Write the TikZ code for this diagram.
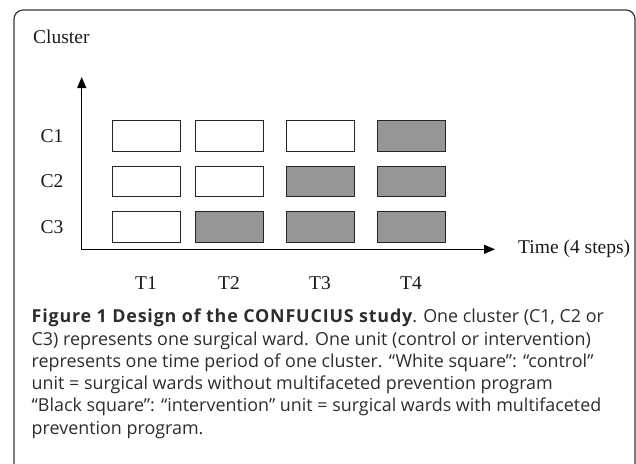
\documentclass[tikz,border=0pt]{standalone}
\usepackage{fontspec}
\setmainfont{Liberation Serif}
\setsansfont{Open Sans}[BoldFeatures={LetterSpace=4.5}]
\usetikzlibrary{arrows.meta}
\definecolor{unitgray}{RGB}{150,150,150}
\definecolor{framegray}{RGB}{55,55,55}
\definecolor{captext}{RGB}{45,45,45}

\begin{document}
\begin{tikzpicture}[x=1pt,y=1pt]
                    \tikzstyle{every node}+=[inner sep=0pt]
                    \tikzstyle{unit}=[draw=black!85, line width=0.9pt, minimum width=68pt, minimum height=30.5pt]
                    \tikzstyle{ctrl}=[unit, fill=white]
                    \tikzstyle{intv}=[unit, fill=unitgray]
                    \tikzstyle{lbl}=[text=black!90, font=\fontsize{19.5}{22}\selectfont]
                    \useasboundingbox (0,0) rectangle (636,-463);
                    \draw [framegray, line width=1.2pt, rounded corners=9pt] (14,-480) -- (14,-10) -- (635,-10) -- (635,-480);
                    \node (cluster) [lbl, anchor=west] at (33,-37) {Cluster};
                    % cluster rows
                    \node (c1) [lbl] at (52,-136) {C1};
                    \node (c2) [lbl] at (52,-181.5) {C2};
                    \node (c3) [lbl] at (52,-227) {C3};
                    \node (c1t1) [ctrl] at (146,-136) {};
                    \node (c1t2) [ctrl] at (229,-136) {};
                    \node (c1t3) [ctrl] at (320,-136) {};
                    \node (c1t4) [intv] at (411,-136) {};
                    \node (c2t1) [ctrl] at (146,-181.5) {};
                    \node (c2t2) [ctrl] at (229,-181.5) {};
                    \node (c2t3) [intv] at (320,-181.5) {};
                    \node (c2t4) [intv] at (411,-181.5) {};
                    \node (c3t1) [ctrl] at (146,-227) {};
                    \node (c3t2) [intv] at (229,-227) {};
                    \node (c3t3) [intv] at (320,-227) {};
                    \node (c3t4) [intv] at (411,-227) {};
                    % time periods
                    \node (t1) [lbl] at (146,-283) {T1};
                    \node (t2) [lbl] at (229,-283) {T2};
                    \node (t3) [lbl] at (320,-283) {T3};
                    \node (t4) [lbl] at (411,-283) {T4};
                    % axes
                    \coordinate (orig) at (81.7,-249.3);
                    \coordinate (ytip) at (81.7,-77);
                    \coordinate (xtip) at (495,-249.3);
                    \draw [black, line width=0.9pt, {Triangle[length=11pt,width=9pt]}-{Triangle[length=11pt,width=9pt]}] (ytip) -- (orig) -- (xtip);
                    \node (time) [lbl, anchor=west] at (518,-249) {Time (4 steps)};
                    % caption (base = last line)
                    \node (caption) [anchor=base west, align=left, text=captext, font=\sffamily\fontsize{17.9}{22.3}\selectfont] at (31.5,-434.2) {\textbf{Figure 1 Design of the CONFUCIUS study}. One cluster (C1, C2 or\\
C3) represents one surgical ward. One unit (control or intervention)\\
represents one time period of one cluster. “White square": “control”\\
unit = surgical wards without multifaceted prevention program\\
“Black square": “intervention” unit = surgical wards with multifaceted\\
prevention program.};
                \end{tikzpicture}
\end{document}
